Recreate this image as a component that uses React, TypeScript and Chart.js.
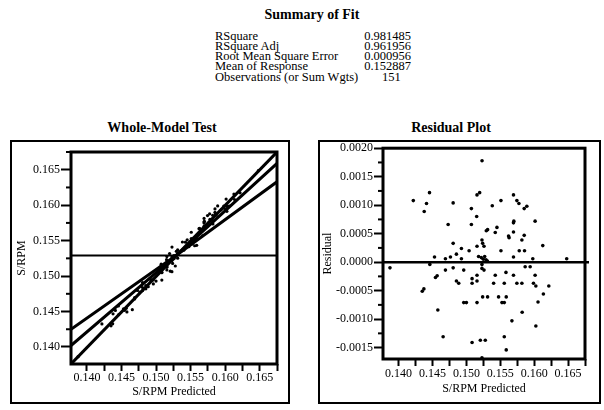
import React, { useEffect, useRef } from "react";
import { Chart, registerables } from "chart.js";

Chart.register(...registerables);

// ---------- data ----------
const summaryLabels = [
  "RSquare",
  "RSquare Adj",
  "Root Mean Square Error",
  "Mean of Response",
  "Observations (or Sum Wgts)",
];
const summaryValues = ["0.981485", "0.961956", "0.000956", "0.152887", "151"];

const meanResponse = 0.152887;

// predicted values and residuals
const predicted = [
  0.15231, 0.14456, 0.14217, 0.14412, 0.14378, 0.14805, 0.15157, 0.15196, 0.15074, 0.1551,
  0.15382, 0.15695, 0.15745, 0.15775, 0.15853, 0.15892, 0.15152, 0.14731, 0.15074, 0.15294,
  0.15313, 0.15451, 0.15426, 0.15695, 0.157, 0.15695, 0.15622, 0.1563, 0.15853, 0.15819,
  0.16014, 0.16127, 0.14805, 0.14927, 0.1504, 0.15157, 0.1523, 0.1524, 0.1526, 0.1551,
  0.1578, 0.15858, 0.1453, 0.14691, 0.14765, 0.14853, 0.14927, 0.1518, 0.1522, 0.1525,
  0.1529, 0.1527, 0.1531, 0.15695, 0.1598, 0.1648,
  0.13873, 0.14461, 0.14544, 0.14569, 0.14349, 0.14373, 0.14691, 0.14805, 0.14853, 0.14887,
  0.14961, 0.14579, 0.14657, 0.14961, 0.15, 0.15084, 0.15084, 0.15157, 0.15157, 0.15157,
  0.15084, 0.1523, 0.1526, 0.1523, 0.1524, 0.15313, 0.15206, 0.15279, 0.15426, 0.15402,
  0.15475, 0.15525, 0.15559, 0.15588, 0.15584, 0.15559, 0.15695, 0.15745, 0.15819, 0.15559,
  0.15588, 0.15672, 0.15823, 0.15867, 0.15941, 0.16014, 0.1599, 0.16025, 0.16057, 0.16025,
  0.16136, 0.16216, 0.1523,
];
const residuals = [
  0.00178, 0.00122, 0.00108, 0.00103, 0.00089, 0.00104, 0.00118, 0.00122, 0.00094, 0.00108,
  0.00099, 0.00118, 0.00108, 0.00103, 0.00094, 0.00098, 0.0008, 0.00066, 0.00066, 0.00055,
  0.00057, 0.00061, 0.00052, 0.00069, 0.00072, 0.00053, 0.00046, 0.00043, 0.00047, 0.00039,
  0.00072, 0.00029, 0.00033, 0.00024, 0.0002, 0.00028, 0.00039, 0.00033, 0.00028, 0.0002,
  0.0002, 0.0002, 0.00009, 0.00006, 0.00009, 0.00014, 0.00006, 0.0001, 0.00008, 0.00005,
  0.00004, 0.0001, 0.00002, 0.00009, 0.00006, 0.00006,
  -0.0001, -0.00004, -0.00027, -0.00024, -0.00051, -0.00047, -0.00014, -0.0001, -0.00033, -0.00037,
  -0.00014, -0.00084, -0.00131, -0.00071, -0.00071, -0.00029, -0.00037, -0.00023, -0.00033, -0.00071,
  -0.00141, -0.00004, -0.00014, -0.00011, -0.00061, -0.00061, -0.00137, -0.00137, -0.00023, -0.00037,
  -0.00061, -0.00071, -0.00071, -0.00061, -0.00018, -0.00037, -0.00023, -0.00037, -0.00037, -0.00131,
  -0.00154, -0.00103, -0.00088, -0.00008, -0.00008, -0.00023, -0.00037, -0.00042, -0.0007, -0.00112,
  -0.00056, -0.00042, -0.00168,
];

// fit line and confidence curves of the whole-model (leverage) plot
const fitLineX = [0.1377, 0.1675];
const fitLineY = [0.1376, 0.1675];
const curveAX = [0.1377, 0.1529, 0.1675];
const curveAY = [0.1425, 0.1529, 0.1633];
const curveBX = [0.1377, 0.1529, 0.1675];
const curveBY = [0.1402, 0.1529, 0.1659];

// axes
const wmRange = { xmin: 0.1377, xmax: 0.1675, ymin: 0.1376, ymax: 0.1675 };
const resRange = { xmin: 0.1377, xmax: 0.1675, ymin: -0.0017, ymax: 0.002 };
const predTickLabels = ["0.140", "0.145", "0.150", "0.155", "0.160", "0.165"];
const residTickLabels = ["-0.0015", "-0.0010", "-0.0005", "0.0000", "0.0005", "0.0010", "0.0015", "0.0020"];

// ---------- helpers ----------
const SERIF = "'Liberation Serif', 'Times New Roman', serif";
const tickFont = { family: SERIF, size: 12 };
const titleFont = { family: SERIF, size: 12 };

const majorVals = (labels: string[]) => labels.map((s) => parseFloat(s));
const isMajor = (v: number, majors: number[]) => majors.some((m) => Math.abs(m - v) < 1e-9);
const labelFor = (v: number, labels: string[]) => {
  const i = labels.findIndex((s) => Math.abs(parseFloat(s) - v) < 1e-9);
  return i >= 0 ? labels[i] : "";
};
const buildTicks = (min: number, max: number, step: number) => {
  const out: { value: number }[] = [];
  for (let i = Math.ceil(min / step - 1e-9); i <= Math.floor(max / step + 1e-9); i++) {
    out.push({ value: Math.round(i * step * 1e7) / 1e7 });
  }
  return out;
};

// short minor ticks on the y axis and the heavy frame around the plotting area
function makeAxisPlugin(yMajors: number[]) {
  return {
    id: "axisMarks",
    afterDraw(chart: any) {
      const { ctx, chartArea: a } = chart;
      const ys = chart.scales.y;
      ctx.save();
      ctx.strokeStyle = "#000";
      ctx.lineWidth = 3;
      ctx.strokeRect(a.left, a.top, a.right - a.left, a.bottom - a.top);
      ctx.fillStyle = "#000";
      for (const t of ys.getTicks()) {
        if (isMajor(t.value, yMajors)) continue;
        const p = ys.getPixelForValue(Number(t.value));
        ctx.fillRect(a.left - 5, p - 1, 5, 2);
      }
      ctx.restore();
    },
  };
}

function makeHline(value: number, width: number, extend: number) {
  return {
    id: "hline",
    afterDatasetsDraw(chart: any) {
      const { ctx, chartArea: a } = chart;
      const y = chart.scales.y.getPixelForValue(value);
      ctx.save();
      ctx.strokeStyle = "#000";
      ctx.lineWidth = width;
      ctx.beginPath();
      ctx.moveTo(a.left, y);
      ctx.lineTo(a.right + extend, y);
      ctx.stroke();
      ctx.restore();
    },
  };
}

function scaleOpts(
  min: number,
  max: number,
  step: number,
  labels: string[],
  title: string,
  size: number,
  horizontal: boolean,
  padding: number,
  tickLen: number,
  titlePad: any
) {
  const majors = majorVals(labels);
  return {
    type: "linear",
    min,
    max,
    afterBuildTicks: (s: any) => {
      s.ticks = buildTicks(min, max, step);
    },
    afterFit: (s: any) => {
      if (horizontal) s.height = size;
      else s.width = size;
    },
    ticks: {
      autoSkip: false,
      maxRotation: 0,
      padding,
      color: "#000",
      font: tickFont,
      callback: (v: any) => labelFor(Number(v), labels),
    },
    grid: {
      display: true,
      drawOnChartArea: false,
      drawTicks: true,
      tickLength: tickLen,
      tickWidth: 2,
      tickColor: (c: any) =>
        horizontal || (c.tick && isMajor(c.tick.value, majors)) ? "#000" : "rgba(0,0,0,0)",
    },
    border: { display: false },
    title: { display: true, text: title, color: "#000", font: titleFont, padding: titlePad },
  };
}

function WholeModel() {
  const ref = useRef<HTMLCanvasElement>(null);
  useEffect(() => {
    const line = (xs: number[], ys: number[]) => ({
      type: "line",
      data: xs.map((x, i) => ({ x, y: ys[i] })),
      borderColor: "#000",
      borderWidth: 3,
      pointRadius: 0,
      fill: false,
      tension: 0,
    });
    const chart = new Chart(ref.current!, {
      type: "scatter",
      data: {
        datasets: [
          line(fitLineX, fitLineY),
          line(curveAX, curveAY),
          line(curveBX, curveBY),
          {
            type: "scatter",
            data: predicted.map((p, i) => ({ x: p, y: p + residuals[i] })),
            pointRadius: 1.6,
            backgroundColor: "#000",
            borderWidth: 0,
          },
        ] as any,
      },
      options: {
        animation: false,
        responsive: false,
        devicePixelRatio: 1,
        layout: { padding: { top: 10, right: 10, left: 0, bottom: 0 } },
        plugins: { legend: { display: false }, tooltip: { enabled: false } },
        scales: {
          x: scaleOpts(wmRange.xmin, wmRange.xmax, 0.0025, predTickLabels, "S/RPM Predicted", 36, true, 0, 7, { top: 0, bottom: 1 }),
          y: scaleOpts(wmRange.ymin, wmRange.ymax, 0.0025, predTickLabels, "S/RPM", 59, false, 1, 10, { top: 3, bottom: 0 }),
        } as any,
      },
      plugins: [makeHline(meanResponse, 2, 0), makeAxisPlugin(majorVals(predTickLabels))],
    });
    return () => chart.destroy();
  }, []);
  return <canvas ref={ref} width={275} height={258} style={{ position: "absolute", left: 12, top: 142 }} />;
}

function ResidualPlot() {
  const ref = useRef<HTMLCanvasElement>(null);
  useEffect(() => {
    const chart = new Chart(ref.current!, {
      type: "scatter",
      data: {
        datasets: [
          {
            data: predicted.map((p, i) => ({ x: p, y: residuals[i] })),
            pointRadius: 1.8,
            backgroundColor: "#000",
            borderWidth: 0,
          },
        ],
      },
      options: {
        animation: false,
        responsive: false,
        devicePixelRatio: 1,
        layout: { padding: { top: 8, right: 13, left: 0, bottom: 0 } },
        plugins: { legend: { display: false }, tooltip: { enabled: false } },
        scales: {
          x: scaleOpts(resRange.xmin, resRange.xmax, 0.0025, predTickLabels, "S/RPM Predicted", 43, true, 1, 7, { top: 0, bottom: 6 }),
          y: scaleOpts(resRange.ymin, resRange.ymax, 0.00025, residTickLabels, "Residual", 63, false, 1, 9, { top: 1, bottom: 0 }),
        } as any,
      },
      plugins: [makeHline(0, 2.5, 4), makeAxisPlugin(majorVals(residTickLabels))],
    });
    return () => chart.destroy();
  }, []);
  return <canvas ref={ref} width={278} height={262} style={{ position: "absolute", left: 320, top: 140 }} />;
}

export default function App() {
  const rowTop = (i: number) => 28.5 + i * 10.3;
  return (
    <div
      style={{
        position: "fixed",
        left: 0,
        top: 0,
        width: 604,
        height: 410,
        background: "#fff",
        fontFamily: SERIF,
        color: "#000",
        overflow: "hidden",
      }}
    >
      <div style={{ position: "absolute", left: 212, top: 7, width: 200, textAlign: "center", fontWeight: "bold", fontSize: 14, lineHeight: "16px" }}>
        Summary of Fit
      </div>
      {summaryLabels.map((l, i) => (
        <div key={l} style={{ position: "absolute", left: 215, top: rowTop(i), fontSize: 12.5, lineHeight: "14px", whiteSpace: "nowrap" }}>
          {l}
        </div>
      ))}
      {summaryValues.map((v, i) =>
        i < summaryValues.length - 1 ? (
          <div key={"v" + i} style={{ position: "absolute", left: 311, width: 100, textAlign: "right", top: rowTop(i), fontSize: 12.5, lineHeight: "14px" }}>
            {v}
          </div>
        ) : (
          <div key={"v" + i} style={{ position: "absolute", left: 382, top: rowTop(i), fontSize: 12.5, lineHeight: "14px" }}>
            {v}
          </div>
        )
      )}

      <div style={{ position: "absolute", left: 62, top: 120, width: 200, textAlign: "center", fontWeight: "bold", fontSize: 14, lineHeight: "16px" }}>
        Whole-Model Test
      </div>
      <div style={{ position: "absolute", left: 351, top: 120, width: 200, textAlign: "center", fontWeight: "bold", fontSize: 14, lineHeight: "16px" }}>
        Residual Plot
      </div>

      <div style={{ position: "absolute", left: 10, top: 140, width: 280, height: 264, border: "2px solid #000", boxSizing: "border-box" }} />
      <div style={{ position: "absolute", left: 318, top: 140, width: 283, height: 264, border: "2px solid #000", boxSizing: "border-box" }} />

      <WholeModel />
      <ResidualPlot />
    </div>
  );
}
